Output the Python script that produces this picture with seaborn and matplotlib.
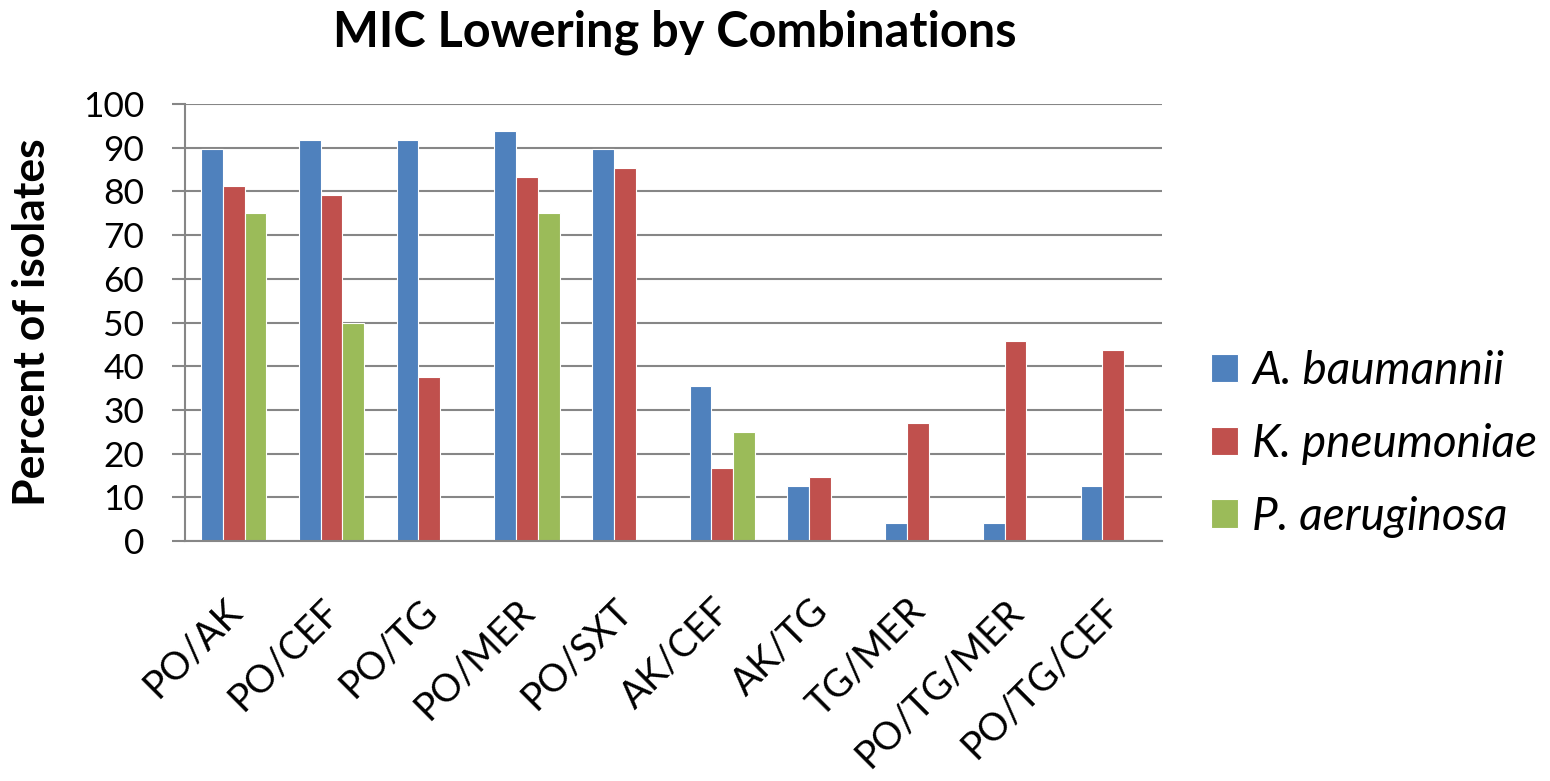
import seaborn as sns
import matplotlib.pyplot as plt
import matplotlib.transforms as mtransforms
import numpy as np
import pandas as pd

# values (percent of isolates)
combos = ['PO/AK', 'PO/CEF', 'PO/TG', 'PO/MER', 'PO/SXT',
          'AK/CEF', 'AK/TG', 'TG/MER', 'PO/TG/MER', 'PO/TG/CEF']
baumannii = [89.6, 91.7, 91.7, 93.8, 89.6, 35.4, 12.5, 4.2, 4.2, 12.5]
pneumoniae = [81.3, 79.2, 37.5, 83.3, 85.4, 16.7, 14.6, 27.1, 45.8, 43.8]
aeruginosa = [75.0, 50.0, np.nan, 75.0, np.nan, 25.0, np.nan, np.nan, np.nan, np.nan]
species = ['A. baumannii', 'K. pneumoniae', 'P. aeruginosa']
colors = ['#4F81BD', '#C0504D', '#9BBB59']

df = pd.DataFrame({'combo': combos * 3,
                   'species': np.repeat(species, len(combos)),
                   'pct': baumannii + pneumoniae + aeruginosa})

sns.set_style('white')
plt.rcParams['font.family'] = ['Lato', 'DejaVu Sans']
plt.rcParams['text.color'] = 'black'

grey = '#868686'
fig = plt.figure(figsize=(15.5, 7.81), dpi=100)
ax = fig.add_axes([185 / 1550, 1 - 541 / 781, (1162 - 185) / 1550, (541 - 104) / 781])

sns.barplot(data=df, x='combo', y='pct', hue='species', order=combos,
            hue_order=species, palette=colors, width=2 / 3, ax=ax,
            edgecolor='white', linewidth=0.8, saturation=1)

ax.set_xlim(-0.5, len(combos) - 0.5)
ax.set_ylim(0, 100)
ax.set_yticks(range(0, 101, 10))
ax.yaxis.grid(True, color=grey, linewidth=1.5)
ax.set_axisbelow(True)
for s in ['top', 'right']:
    ax.spines[s].set_visible(False)
for s in ['left', 'bottom']:
    ax.spines[s].set_color(grey)
    ax.spines[s].set_linewidth(1.5)

ax.set_xticks(np.arange(len(combos)))
ax.set_xticks(np.arange(-0.5, len(combos)), minor=True)
ax.tick_params(axis='x', which='major', length=0, pad=37, labelcolor='black')
ax.tick_params(axis='x', which='minor', length=10.8, width=1.5, color=grey, direction='out')
ax.tick_params(axis='y', length=9.4, width=1.5, color=grey, direction='out',
               labelsize=25.5, pad=20, left=True, labelcolor='black')
ax.set_xticklabels(combos, rotation=45, ha='right', va='top',
                   rotation_mode='anchor', fontsize=27.5)
shift = mtransforms.ScaledTranslation(-0.11, 0, fig.dpi_scale_trans)
for lab in ax.get_xticklabels():
    lab.set_transform(lab.get_transform() + shift)

ax.set_xlabel('')
ax.set_ylabel('')
fig.text(32 / 1550, 1 - 322 / 781, 'Percent of isolates', rotation=90,
         ha='center', va='center', fontsize=32, fontweight='bold')
fig.text(675 / 1550, 1 - 32 / 781, 'MIC Lowering by Combinations',
         ha='center', va='center', fontsize=35, fontweight='bold')

handles, labels = ax.get_legend_handles_labels()
ax.get_legend().remove()
fig.legend(handles, labels, loc='center left', bbox_to_anchor=(1211 / 1550, 1 - 444 / 781),
           frameon=False, prop={'style': 'italic', 'size': 33},
           handlelength=0.58, handleheight=0.58, labelspacing=0.67, handletextpad=0.32,
           borderpad=0, borderaxespad=0)

fig.savefig('out.png', dpi=100)
